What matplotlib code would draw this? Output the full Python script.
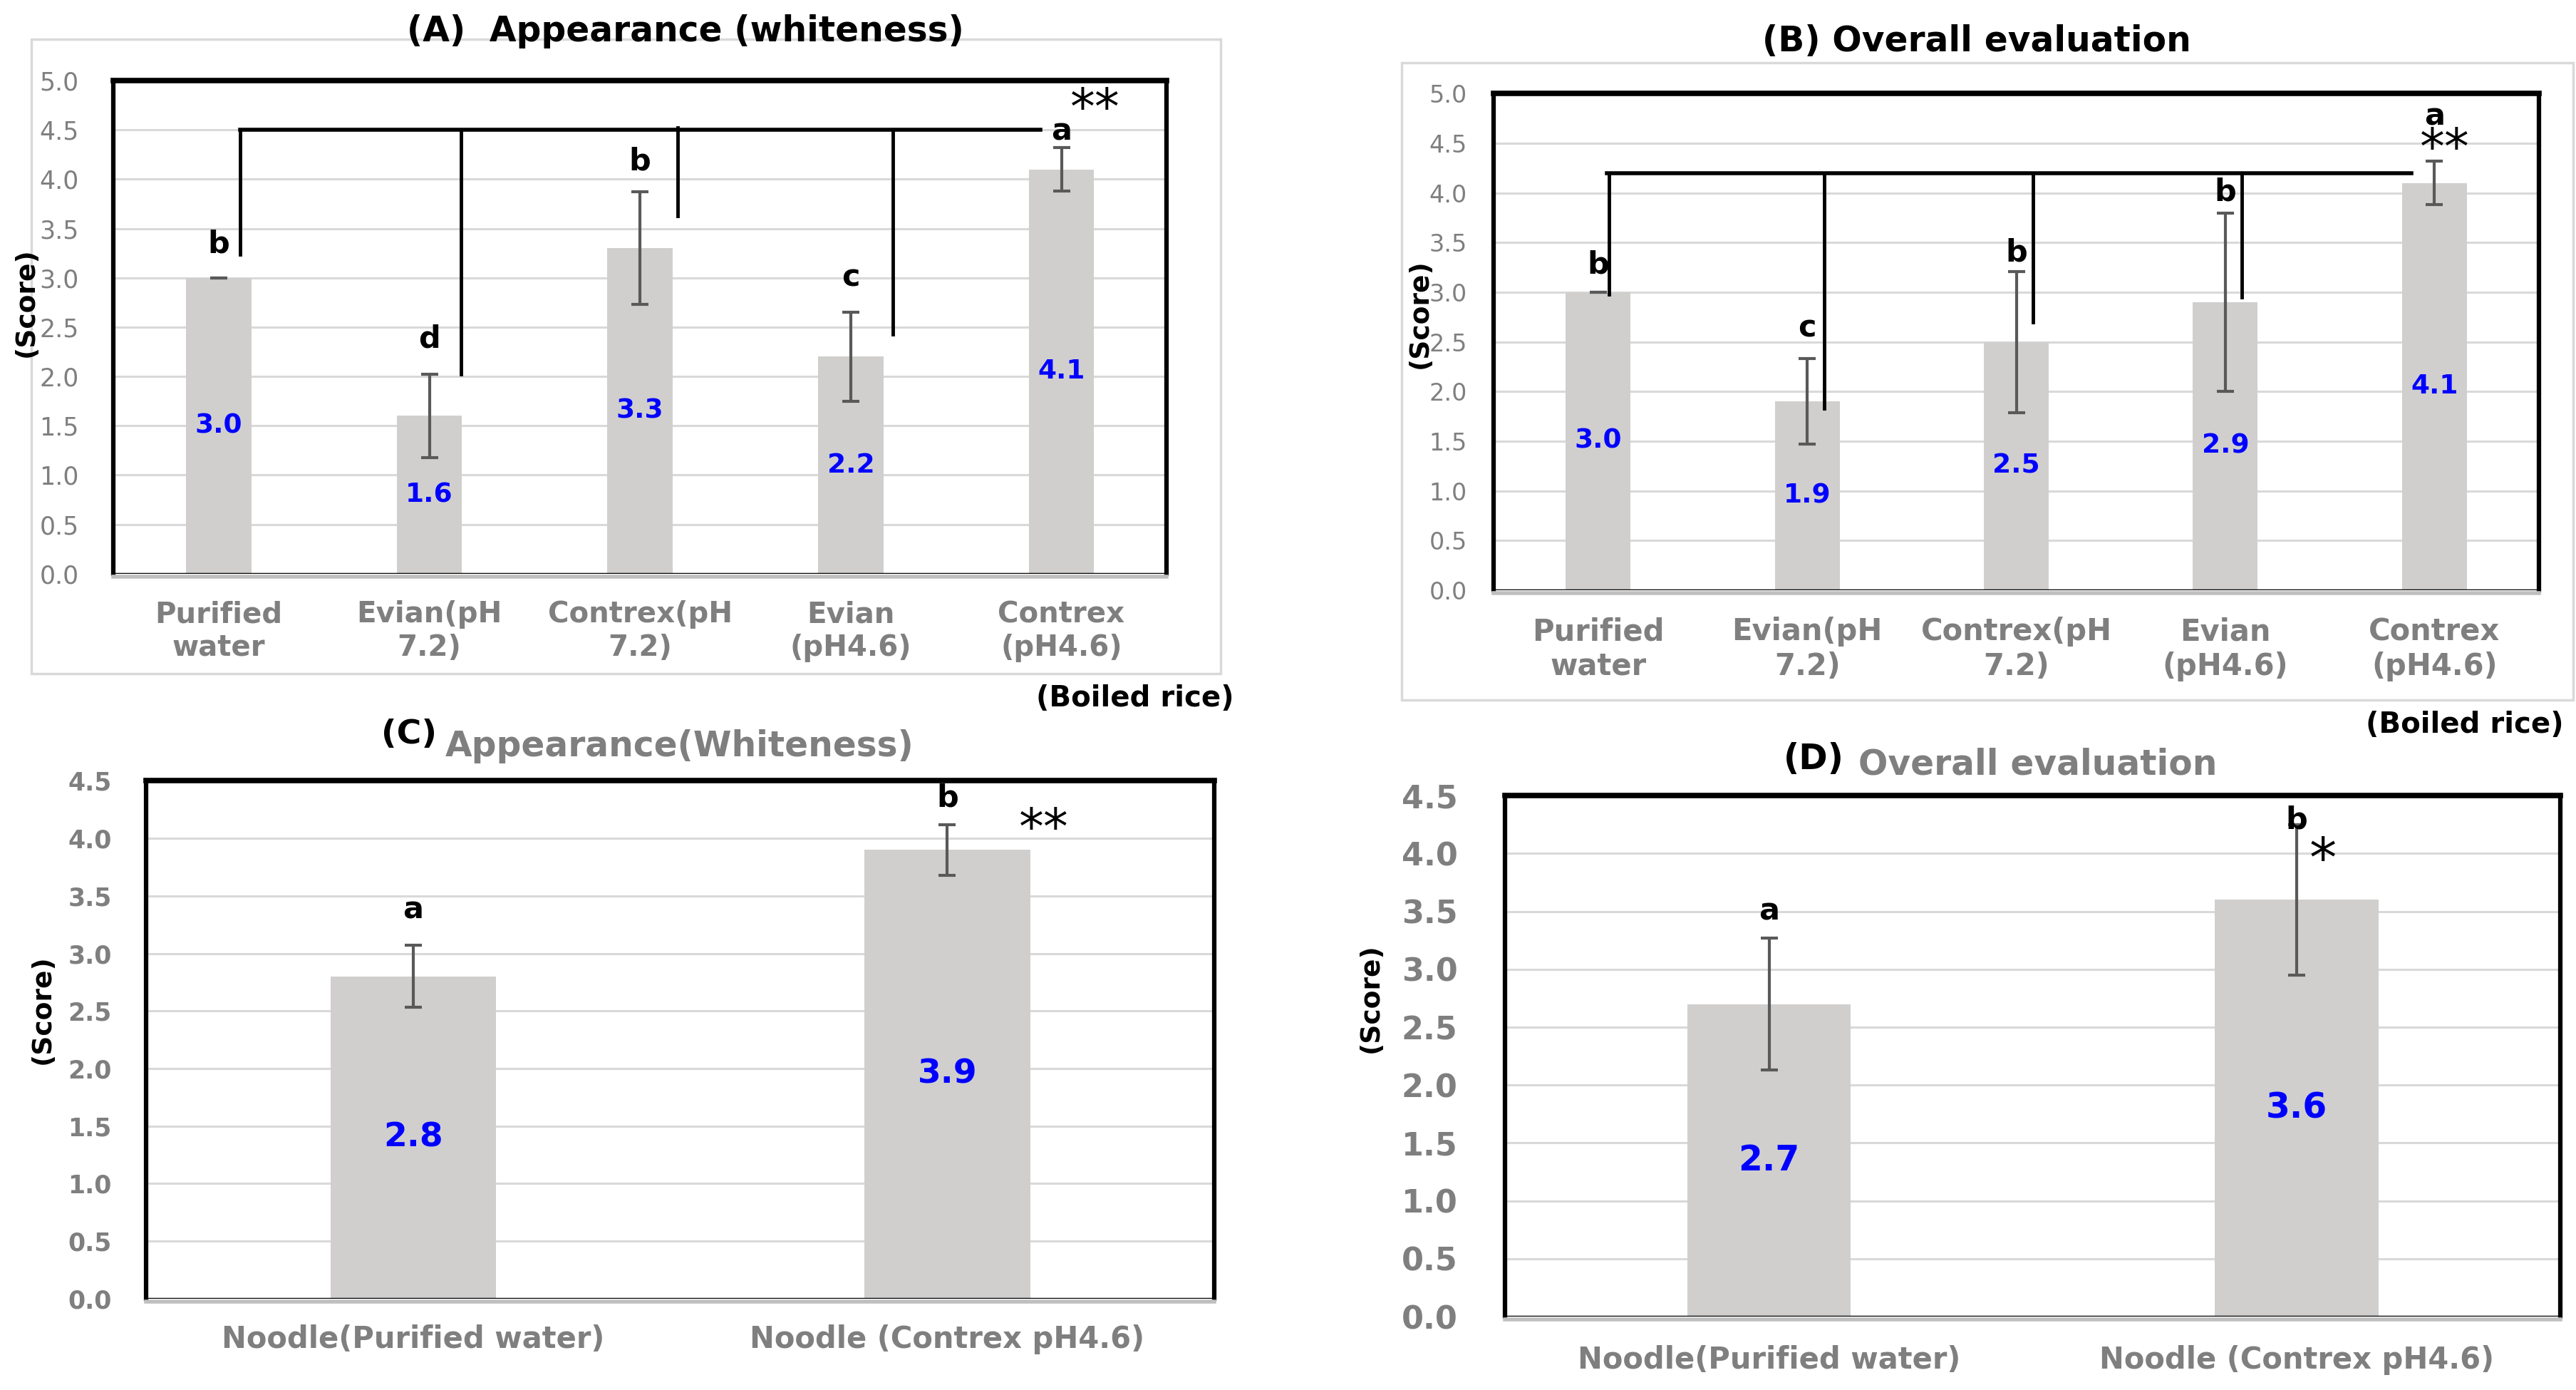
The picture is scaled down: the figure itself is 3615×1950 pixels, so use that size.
import matplotlib
matplotlib.use('Agg')
import matplotlib.pyplot as plt
from matplotlib.patches import Rectangle

plt.rcParams['font.family'] = ['DejaVu Sans']

# data
rice_cats = ['Purified\nwater', 'Evian(pH\n7.2)', 'Contrex(pH\n7.2)', 'Evian\n(pH4.6)', 'Contrex\n(pH4.6)']
rice_white = [3.0, 1.6, 3.3, 2.2, 4.1]
rice_white_err = [0.0, 0.42, 0.57, 0.45, 0.22]
rice_white_let = ['b', 'd', 'b', 'c', 'a']
rice_overall = [3.0, 1.9, 2.5, 2.9, 4.1]
rice_overall_err = [0.0, 0.43, 0.71, 0.90, 0.22]
rice_overall_let = ['b', 'c', 'b', 'b', 'a']

noodle_cats = ['Noodle(Purified water)', 'Noodle (Contrex pH4.6)']
noodle_white = [2.8, 3.9]
noodle_white_err = [0.27, 0.22]
noodle_white_let = ['a', 'b']
noodle_overall = [2.7, 3.6]
noodle_overall_err = [0.57, 0.65]
noodle_overall_let = ['a', 'b']

BAR = '#D0CFCE'
GRID = '#D9D9D9'
GRAY = '#7F7F7F'
BLUE = '#0000FF'

W, H = 1568.0, 845.6
def box(l, t, r, b):
    return [l / W, 1 - b / H, (r - l) / W, (b - t) / H]

fig = plt.figure(figsize=(36.16, 19.5), dpi=100)

# light outer frames of panel A and B
for l, t, r, b in [(19, 24, 743, 410), (853, 38, 1566, 426)]:
    fig.patches.append(Rectangle((l / W, 1 - b / H), (r - l) / W, (b - t) / H,
                                 transform=fig.transFigure, fill=False,
                                 edgecolor=GRID, lw=2.5))


def panel(rect, cats, vals, errs, lets, let_off, ymax, tick_size, tick_bold,
          ypad, xpad, cat_size, val_size, let_size, star, star_xy, star_size):
    ax = fig.add_axes(rect)
    # spines first (moving a spine resets the ticks)
    for s in ['left', 'right']:
        ax.spines[s].set_linewidth(4.5)
    ax.spines['top'].set_linewidth(5.5)
    ax.spines['bottom'].set_color('#BFBFBF')
    ax.spines['bottom'].set_linewidth(4)
    ax.spines['bottom'].set_position(('outward', 3))

    x = list(range(len(vals)))
    ax.bar(x, vals, width=0.31, color=BAR, zorder=2)
    ax.errorbar(x, vals, yerr=errs, fmt='none', ecolor='#595959', elinewidth=3,
                capsize=8.5, capthick=3, zorder=3)
    ax.set_xlim(-0.5, len(vals) - 0.5)
    ax.set_ylim(0, ymax)
    ticks = [i * 0.5 for i in range(int(ymax / 0.5) + 1)]
    for t in ticks[1:-1]:
        ax.axhline(t, color=GRID, lw=2.2, zorder=1)
    ax.axhline(0, color='black', lw=2.5, zorder=4)

    ax.tick_params(axis='both', length=0)
    ax.tick_params(axis='y', pad=ypad, labelsize=tick_size, labelcolor=GRAY)
    ax.tick_params(axis='x', pad=xpad, labelsize=cat_size, labelcolor=GRAY)
    ax.set_yticks(ticks)
    ax.set_yticklabels(['%.1f' % t for t in ticks], fontsize=tick_size, color=GRAY,
                       fontweight='bold' if tick_bold else 'normal')
    ax.set_xticks(x)
    ax.set_xticklabels(cats, fontsize=cat_size, fontweight='bold', color=GRAY,
                       linespacing=1.2)

    for i, v in enumerate(vals):
        ax.text(i, v / 2, '%.1f' % v, color=BLUE, fontsize=val_size,
                fontweight='bold', ha='center', va='center', zorder=5)
        ax.text(i, v + errs[i] + let_off[i], lets[i], fontsize=let_size,
                fontweight='bold', ha='center', va='center', zorder=5)
    ax.text(star_xy[0], star_xy[1], star, fontsize=star_size, ha='center',
            va='center', zorder=5)
    return ax


# (A)
axA = panel(box(69, 49, 710, 349), rice_cats, rice_white, rice_white_err,
            rice_white_let, [0.34, 0.36, 0.31, 0.35, 0.16], 5.0,
            25, False, 35, 24, 29, 27, 31, '**', (4.16, 4.70), 50)
axA.plot([0.1, 3.9], [4.5, 4.5], color='black', lw=4, zorder=4)
for xx, y0, y1 in [(0.1, 4.5, 3.24), (1.15, 4.5, 2.02), (2.18, 4.52, 3.63), (3.2, 4.5, 2.43)]:
    axA.plot([xx, xx], [y0, y1], color='black', lw=3.5, zorder=4)

# (B)
axB = panel(box(909, 57, 1545, 359), rice_cats, rice_overall, rice_overall_err,
            rice_overall_let, [0.28, 0.31, 0.19, 0.21, 0.45], 5.0,
            24, False, 27, 24, 30, 27, 31, '**', (4.05, 4.43), 50)
axB.plot([0.04, 3.89], [4.2, 4.2], color='black', lw=4, zorder=4)
for xx, y1 in [(0.05, 2.98), (1.08, 1.83), (2.08, 2.70), (3.08, 2.95)]:
    axB.plot([xx, xx], [4.2, y1], color='black', lw=3.5, zorder=4)

# (C)
axC = panel(box(89, 475, 739, 790), noodle_cats, noodle_white, noodle_white_err,
            noodle_white_let, [0.31, 0.23], 4.5,
            25, True, 35, 23, 30, 34, 31, '**', (1.18, 4.07), 50)

# (D)
axD = panel(box(916, 484, 1558, 801), noodle_cats, noodle_overall, noodle_overall_err,
            noodle_overall_let, [0.23, 0.04], 4.5,
            32, True, 48, 26, 30, 35, 31, '*', (1.05, 3.93), 55)

# titles
fig.text(417 / W, 1 - 19 / H, '(A)  Appearance (whiteness)', fontsize=35,
         fontweight='bold', ha='center', va='center')
fig.text(1203 / W, 1 - 25 / H, '(B) Overall evaluation', fontsize=35,
         fontweight='bold', ha='center', va='center')
fig.text(266 / W, 1 - 447 / H, '(C)', fontsize=34, fontweight='bold',
         ha='right', va='center')
fig.text(271 / W, 1 - 454 / H, 'Appearance(Whiteness)', fontsize=35,
         fontweight='bold', color=GRAY, ha='left', va='center')
fig.text(1122 / W, 1 - 462 / H, '(D)', fontsize=35, fontweight='bold',
         ha='right', va='center')
fig.text(1131 / W, 1 - 465 / H, 'Overall evaluation', fontsize=35,
         fontweight='bold', color=GRAY, ha='left', va='center')

# y labels
for xx, yy in [(16, 184), (864, 191), (26, 614), (834, 607)]:
    fig.text(xx / W, 1 - yy / H, '(Score)', rotation=90, fontsize=27,
             fontweight='bold', ha='center', va='center')

fig.text(751 / W, 1 - 425 / H, '(Boiled rice)', fontsize=29, fontweight='bold',
         ha='right', va='center')
fig.text(1560 / W, 1 - 441 / H, '(Boiled rice)', fontsize=29, fontweight='bold',
         ha='right', va='center')

fig.savefig('out.png', dpi=100, facecolor='white')
